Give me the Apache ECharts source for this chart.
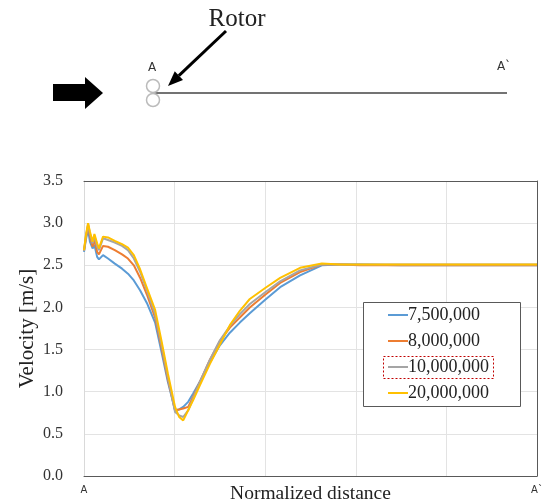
<!DOCTYPE html>
<html><head><meta charset="utf-8">
<script src="https://cdn.jsdelivr.net/npm/echarts@6/dist/echarts.min.js"></script>
<style>html,body{margin:0;padding:0;background:#fff}#c{width:544px;height:504px}</style>
</head><body><div id="c"></div>
<script>
// Normalized distance samples (A = 0, A` = 1)
const xs = [0,0.004,0.009,0.013,0.019,0.023,0.029,0.033,0.042,0.053,0.068,0.084,0.097,0.110,0.124,0.139,0.157,0.172,0.185,0.201,0.210,0.219,0.230,0.241,0.256,0.278,0.300,0.322,0.344,0.366,0.400,0.433,0.477,0.525,0.565,0.609,0.698,0.808,0.918,1.0];
const seriesNames = ['7,500,000','8,000,000','10,000,000','20,000,000'];
const v7_5M = [2.66,2.80,2.93,2.78,2.70,2.74,2.60,2.57,2.62,2.58,2.52,2.46,2.40,2.32,2.20,2.05,1.82,1.45,1.12,0.78,0.79,0.82,0.88,0.98,1.12,1.35,1.55,1.70,1.82,1.93,2.09,2.24,2.38,2.50,2.51,2.51,2.50,2.50,2.50,2.50];
const v8M   = [2.67,2.82,2.97,2.85,2.72,2.80,2.66,2.63,2.73,2.72,2.68,2.63,2.58,2.50,2.35,2.15,1.88,1.50,1.15,0.78,0.79,0.80,0.82,0.94,1.12,1.38,1.60,1.76,1.88,2.00,2.15,2.29,2.42,2.51,2.51,2.50,2.50,2.50,2.50,2.50];
const v10M  = [2.67,2.84,2.99,2.88,2.76,2.85,2.72,2.68,2.82,2.80,2.77,2.73,2.68,2.58,2.42,2.20,1.92,1.54,1.18,0.76,0.72,0.70,0.78,0.92,1.12,1.38,1.61,1.78,1.92,2.04,2.18,2.31,2.44,2.51,2.51,2.51,2.51,2.51,2.51,2.51];
const v20M  = [2.68,2.85,3.00,2.90,2.78,2.87,2.76,2.70,2.84,2.83,2.79,2.75,2.71,2.62,2.45,2.23,1.97,1.58,1.22,0.82,0.70,0.66,0.78,0.90,1.08,1.33,1.56,1.79,1.96,2.10,2.23,2.35,2.47,2.52,2.51,2.51,2.51,2.51,2.51,2.51];
const seriesValues = [v7_5M, v8M, v10M, v20M];
const colors = ['#5B9BD5','#ED7D31','#A5A5A5','#FFC000'];
const xTickLabels = {0:'A', 1:'A`'};

const serif = '"Liberation Serif","Times New Roman",serif';
const chart = echarts.init(document.getElementById('c'));
const series = seriesValues.map((vals,i)=>({
  name: seriesNames[i], type:'line', showSymbol:false, symbol:'none',
  data: xs.map((x,j)=>[x, vals[j]]),
  lineStyle:{color:colors[i], width:2}, itemStyle:{color:colors[i]},
  z: i+2, animation:false
}));
// arrow geometry for rotor pointer
const tip=[168,86], tail=[226,31];
const dx=tip[0]-tail[0], dy=tip[1]-tail[1], L=Math.hypot(dx,dy), ux=dx/L, uy=dy/L;
const base=[tip[0]-15*ux, tip[1]-15*uy], px=-uy, py=ux;
chart.setOption({
  animation:false,
  grid:{left:84, right:7, top:181, bottom:28, outerBoundsMode:'none', containLabel:false},
  xAxis:[{
    type:'value', min:0, max:1, interval:0.2,
    name:'Normalized distance', nameLocation:'middle', nameGap:8, nameMoveOverlap:false,
    nameTextStyle:{fontFamily:serif, fontSize:19.5, color:'#222'},
    axisLine:{show:true, onZero:false, lineStyle:{color:'#595959', width:1}},
    axisTick:{show:false},
    axisLabel:{show:true, margin:9, fontFamily:'"DejaVu Sans",sans-serif', fontSize:10, color:'#333',
      formatter:v=> (xTickLabels[v]!==undefined? xTickLabels[v] : '')},
    splitLine:{show:true, lineStyle:{color:'#e3e3e3', width:1}}
  },{
    type:'value', min:0, max:1, position:'top',
    axisLine:{show:true, onZero:false, lineStyle:{color:'#595959', width:1}},
    axisTick:{show:false}, axisLabel:{show:false}, splitLine:{show:false}
  }],
  yAxis:[{
    type:'value', min:0, max:3.5, interval:0.5,
    name:'Velocity [m/s]', nameLocation:'middle', nameGap:46, nameMoveOverlap:false,
    nameTextStyle:{fontFamily:serif, fontSize:21, color:'#222'},
    axisLine:{show:true, onZero:false, lineStyle:{color:'#d9d9d9'}},
    axisTick:{show:false},
    axisLabel:{margin:21, fontFamily:serif, fontSize:16, color:'#333', formatter:v=>v.toFixed(1)},
    splitLine:{show:true, lineStyle:{color:'#e3e3e3', width:1}}
  },{
    type:'value', min:0, max:3.5, position:'right',
    axisLine:{show:true, onZero:false, lineStyle:{color:'#595959', width:1}},
    axisTick:{show:false}, axisLabel:{show:false}, splitLine:{show:false}
  }],
  legend:{
    orient:'vertical', left:388, top:306, padding:0, itemGap:8,
    itemWidth:20, itemHeight:2, icon:'rect',
    data: seriesNames,
    textStyle:{fontFamily:serif, fontSize:18, lineHeight:18, color:'#222', padding:[0,0,0,-5]},
    z:20
  },
  graphic:[
    {type:'rect', shape:{x:363.5,y:302.5,width:157,height:104}, style:{fill:'#fff', stroke:'#595959', lineWidth:1}, z:15},
    {type:'rect', shape:{x:383.5,y:356.5,width:110,height:22}, style:{fill:'none', stroke:'#c00000', lineWidth:1, lineDash:[2,2]}, z:25},
    {type:'polygon', shape:{points:[[53,84],[85,84],[85,77],[103,93],[85,109],[85,101],[53,101]]}, style:{fill:'#000'}},
    {type:'line', shape:{x1:153,y1:93,x2:507,y2:93}, style:{stroke:'#444', lineWidth:1.5}},
    {type:'circle', shape:{cx:153,cy:86,r:6.5}, style:{fill:'none', stroke:'#bbb', lineWidth:1.5}},
    {type:'circle', shape:{cx:153,cy:100,r:6.5}, style:{fill:'none', stroke:'#bbb', lineWidth:1.5}},
    {type:'line', shape:{x1:tail[0],y1:tail[1],x2:base[0],y2:base[1]}, style:{stroke:'#000', lineWidth:3}},
    {type:'polygon', shape:{points:[[tip[0],tip[1]],[base[0]+6*px,base[1]+6*py],[base[0]-6*px,base[1]-6*py]]}, style:{fill:'#000'}},
    {type:'text', x:237, y:19, style:{text:'Rotor', font:'25px '+serif, fill:'#222', align:'center', verticalAlign:'middle'}},
    {type:'text', x:152, y:68, style:{text:'A', font:'12px "DejaVu Sans",sans-serif', fill:'#333', align:'center', verticalAlign:'middle'}},
    {type:'text', x:504, y:67, style:{text:'A`', font:'12px "DejaVu Sans",sans-serif', fill:'#333', align:'center', verticalAlign:'middle'}}
  ],
  series: series
});
</script></body></html>
